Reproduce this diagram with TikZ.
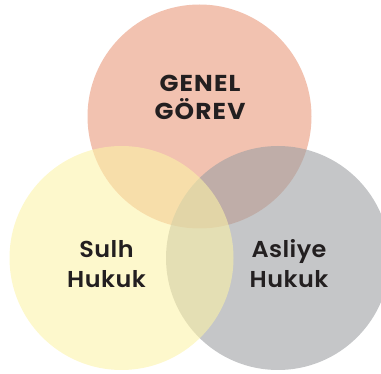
\documentclass[tikz,border=0pt]{standalone}
\usepackage{fontspec}
\setmainfont{Poppins}[FakeStretch=1.08, LetterSpace=5]
\newfontfamily\medfont{Poppins}[UprightFont=* SemiBold, FakeStretch=1.04, LetterSpace=2]
\usepackage{xcolor}
\usepackage{tikz}
\usetikzlibrary{positioning}
\definecolor{salmon}{HTML}{F2C2B0}
\definecolor{greyset}{HTML}{9EA0A3}
\definecolor{yellowset}{HTML}{FCF3A7}
\definecolor{inktext}{HTML}{231F20}
\tikzset{
    set/.style={circle, minimum size=224pt, inner sep=0pt, draw=none},
    title/.style={align=center, text=inktext, font=\bfseries\fontsize{23}{28}\selectfont},
    court/.style={align=center, text=inktext, font=\medfont\fontsize{23}{30}\selectfont}
}
\begin{document}
\begin{tikzpicture}[x=1pt,y=-1pt]

\useasboundingbox (0,0) rectangle (381,374);
\node [set, fill=salmon]                          (genel)   at (199.5,116.5) {};
\node [set, fill=greyset, fill opacity=0.6]       (asliye)  at (278,258)     {};
\node [set, fill=yellowset, fill opacity=0.58]    (sulh)    at (121.5,258)   {};

\node [title] (genel text)  at (200,97)  {GENEL\\GÖREV};
\node [court] (sulh text)   at (106.5,264) {Sulh\\Hukuk};
\node [court] (asliye text) at (289,264)   {Asliye\\Hukuk};

\end{tikzpicture}
\end{document}
